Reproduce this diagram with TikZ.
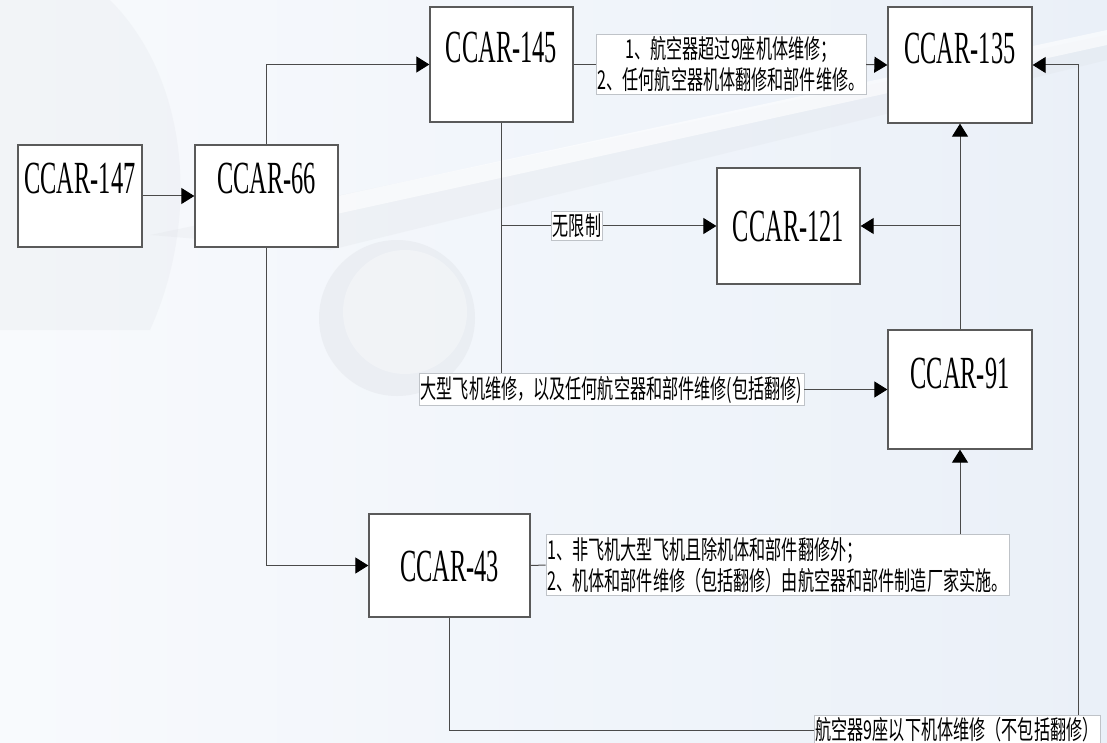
\documentclass[tikz,border=0pt]{standalone}
\usepackage{fontspec}
\usetikzlibrary{arrows.meta}
\newfontfamily\ccarfont[FakeStretch=0.53]{Liberation Serif}
\newfontfamily\cjkfont[FakeStretch=0.62]{Noto Sans CJK SC}
\definecolor{bgL}{HTML}{F8FAFD}
\definecolor{bgR}{HTML}{EAF0F8}
\definecolor{planegray}{HTML}{D9DCE1}
\definecolor{boxgray}{HTML}{5A5A5A}
\definecolor{linegray}{HTML}{4A4A4A}
\definecolor{lblgray}{HTML}{BFC3C8}
\tikzset{
  cbox/.style={draw=boxgray, line width=1.3pt, fill=white, inner sep=0pt,
    font=\ccarfont\fontsize{46}{50}\selectfont, text height=31pt, text depth=#1},
  lbl/.style={draw=lblgray, line width=0.5pt, fill=white, inner xsep=1.5pt, inner ysep=2.5pt,
    font=\cjkfont\fontsize{26}{31}\selectfont},
  conn/.style={draw=linegray, line width=1pt},
  arr/.style={conn, -{Triangle[length=13pt,width=16pt,color=black,fill=black]}}
}
\begin{document}
\begin{tikzpicture}[x=1pt,y=-1pt]
\useasboundingbox (0,0) rectangle (1107,743);
% background
\shade[left color=bgL, right color=bgR] (0,0) rectangle (1107,743);
\fill[planegray, opacity=0.18] (0,0) -- (110,0) .. controls (190,80) and (200,220) .. (150,330) -- (0,330) -- cycle;
\fill[planegray, opacity=0.2] (150,235) -- (1107,35) -- (1107,60) -- (330,250) -- cycle;
\fill[white, opacity=0.6] (250,215) -- (1107,30) -- (1107,45) -- (300,222) -- cycle;
\fill[planegray, opacity=0.3] (397,318) circle (78);
\fill[white, opacity=0.3] (405,312) circle (62);
% boxes
\node[cbox=35pt, minimum width=124pt, minimum height=102pt] (n147) at (80,196) {CCAR-147};
\node[cbox=35pt, minimum width=143pt, minimum height=102pt] (n66) at (266.5,196) {CCAR-66};
\node[cbox=34pt, minimum width=143pt, minimum height=115pt] (n145) at (501.5,64.5) {CCAR-145};
\node[cbox=34pt, minimum width=144pt, minimum height=116pt] (n135) at (960,65) {CCAR-135};
\node[cbox=0pt, minimum width=143pt, minimum height=116pt] (n121) at (788.5,226) {CCAR-121};
\node[cbox=34pt, minimum width=144pt, minimum height=119pt] (n91) at (960,389.5) {CCAR-91};
\node[cbox=0pt, minimum width=161pt, minimum height=103pt] (n43) at (449.5,565.5) {CCAR-43};
% labels
\node[lbl, align=center] (l1) at (731,64.5) {1、航空器超过9座机体维修；\\2、任何航空器机体翻修和部件维修。};
\node[lbl] (l2) at (577,226) {无限制};
\node[lbl] (l3) at (611.5,389.5) {大型飞机维修，以及任何航空器和部件维修(包括翻修)};
\node[lbl, align=left] (l4) at (777.5,565) {1、非飞机大型飞机且除机体和部件翻修外；\\2、机体和部件维修（包括翻修）由航空器和部件制造厂家实施。};
\node[lbl] (l5) at (957,730) {航空器9座以下机体维修（不包括翻修）};
\coordinate (rt) at (1078,0);
% connectors
\draw[arr] (n147) -- (n66);
\draw[arr] (n66.north) |- (n145.west);
\draw[conn] (n145.east) -- (l1.west);
\draw[arr] (l1.east) -- (n135.west);
\draw[conn] (n145.south) -- (n145.south |- l3.north);
\coordinate (b1) at (n145.south |- l2.west);
\draw[conn] (b1) -- (l2.west);
\draw[arr] (l2.east) -- (n121.west);
\draw[arr] (l3.east) -- (n91.west);
\draw[arr] (n91.north) -- (n135.south);
\coordinate (b2) at (n91.north |- n121.east);
\draw[arr] (b2) -- (n121.east);
\draw[arr] (n66.south) |- (n43.west);
\draw[conn] (n43.east) -- (l4.west);
\draw[arr] (l4.north -| n91.south) -- (n91.south);
\draw[conn] (n43.south) |- (l5.west);
\draw[arr] (l5.north -| rt) |- (n135.east);
\end{tikzpicture}
\end{document}
